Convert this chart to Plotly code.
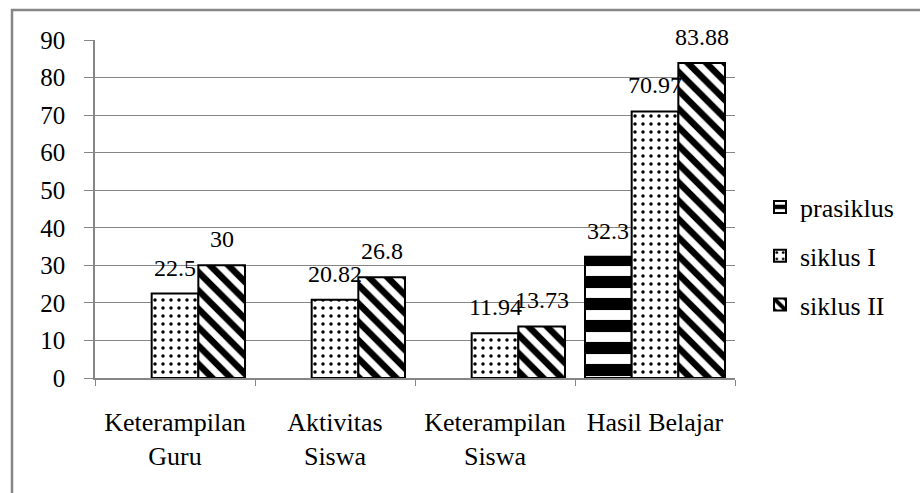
import plotly.graph_objects as go

categories = ["Keterampilan<br>Guru", "Aktivitas<br>Siswa", "Keterampilan<br>Siswa", "Hasil Belajar"]
series_names = ["prasiklus", "siklus I", "siklus II"]
prasiklus = [None, None, None, 32.3]
siklus_1 = [22.5, 20.82, 11.94, 70.97]
siklus_2 = [30, 26.8, 13.73, 83.88]
y_ticks = [0, 10, 20, 30, 40, 50, 60, 70, 80, 90]

FONT = "Liberation Serif"
W, H = 920, 493
L, R, T, B = 95, 185, 40, 115
BARGAP = 0.125

series = [prasiklus, siklus_1, siklus_2]
patterns = [
    dict(color="black", pattern=dict(shape="-", fgcolor="white", bgcolor="black", fgopacity=1, size=22, solidity=0.45)),
    dict(color="white", pattern=dict(shape=".", fgcolor="black", bgcolor="white", fgopacity=1, size=8, solidity=0.15)),
    dict(color="white", pattern=dict(shape="\\", fgcolor="black", bgcolor="white", fgopacity=1, size=13, solidity=0.5)),
]

fig = go.Figure()
for name, vals, mk in zip(series_names, series, patterns):
    fig.add_trace(go.Bar(
        name=name, x=categories, y=vals, legendgroup=name, hoverinfo="skip",
        marker=dict(line=dict(color="black", width=2), **mk),
    ))

# data labels placed above each bar (derived from the data and the group layout)
cat_px = (W - L - R) / len(categories)
bar_px = cat_px * (1 - BARGAP) / len(series)
annotations = []
for i, vals in enumerate(series):
    for cat, v in zip(categories, vals):
        if v is None:
            continue
        annotations.append(dict(
            x=cat, y=v, xref="x", yref="y", text=f"{v:g}", showarrow=False,
            xanchor="center", yanchor="bottom", xshift=(i - 1) * bar_px, yshift=11,
            font=dict(family=FONT, size=24, color="black"),
        ))

fig.update_layout(
    width=W, height=H,
    margin=dict(l=L, r=R, t=T, b=B),
    paper_bgcolor="white", plot_bgcolor="white",
    barmode="group", bargap=BARGAP, bargroupgap=0.0,
    font=dict(family=FONT, size=25, color="black"),
    showlegend=True,
    legend=dict(x=(760 - L) / (W - L - R), y=(378 - 256) / 338, xanchor="left", yanchor="middle",
                font=dict(family=FONT, size=26, color="black"),
                tracegroupgap=12, bgcolor="rgba(0,0,0,0)"),
    xaxis=dict(showline=True, linecolor="#868686", linewidth=1.5,
               ticks="outside", ticklen=6, tickcolor="#868686", tickson="boundaries",
               tickfont=dict(family=FONT, size=26, color="black"),
               ticklabelstandoff=20, showgrid=False),
    yaxis=dict(range=[0, 90], tickvals=y_ticks, showline=True, linecolor="#868686", linewidth=1.5,
               ticks="outside", ticklen=9, tickcolor="#868686",
               showgrid=True, gridcolor="#868686", gridwidth=1.2,
               tickfont=dict(family=FONT, size=25, color="black"),
               ticklabelstandoff=14, zeroline=False),
    annotations=annotations,
    shapes=[dict(type="rect", xref="paper", yref="paper",
                 x0=(12 - L) / (W - L - R), x1=1.5, y0=-0.5, y1=(H - B - 10) / (H - T - B),
                 line=dict(color="#868686", width=2.5), fillcolor="rgba(0,0,0,0)", layer="below")],
)

fig.write_html("out.html", config={"displayModeBar": False},
               post_script="document.body.style.margin='0px';")
